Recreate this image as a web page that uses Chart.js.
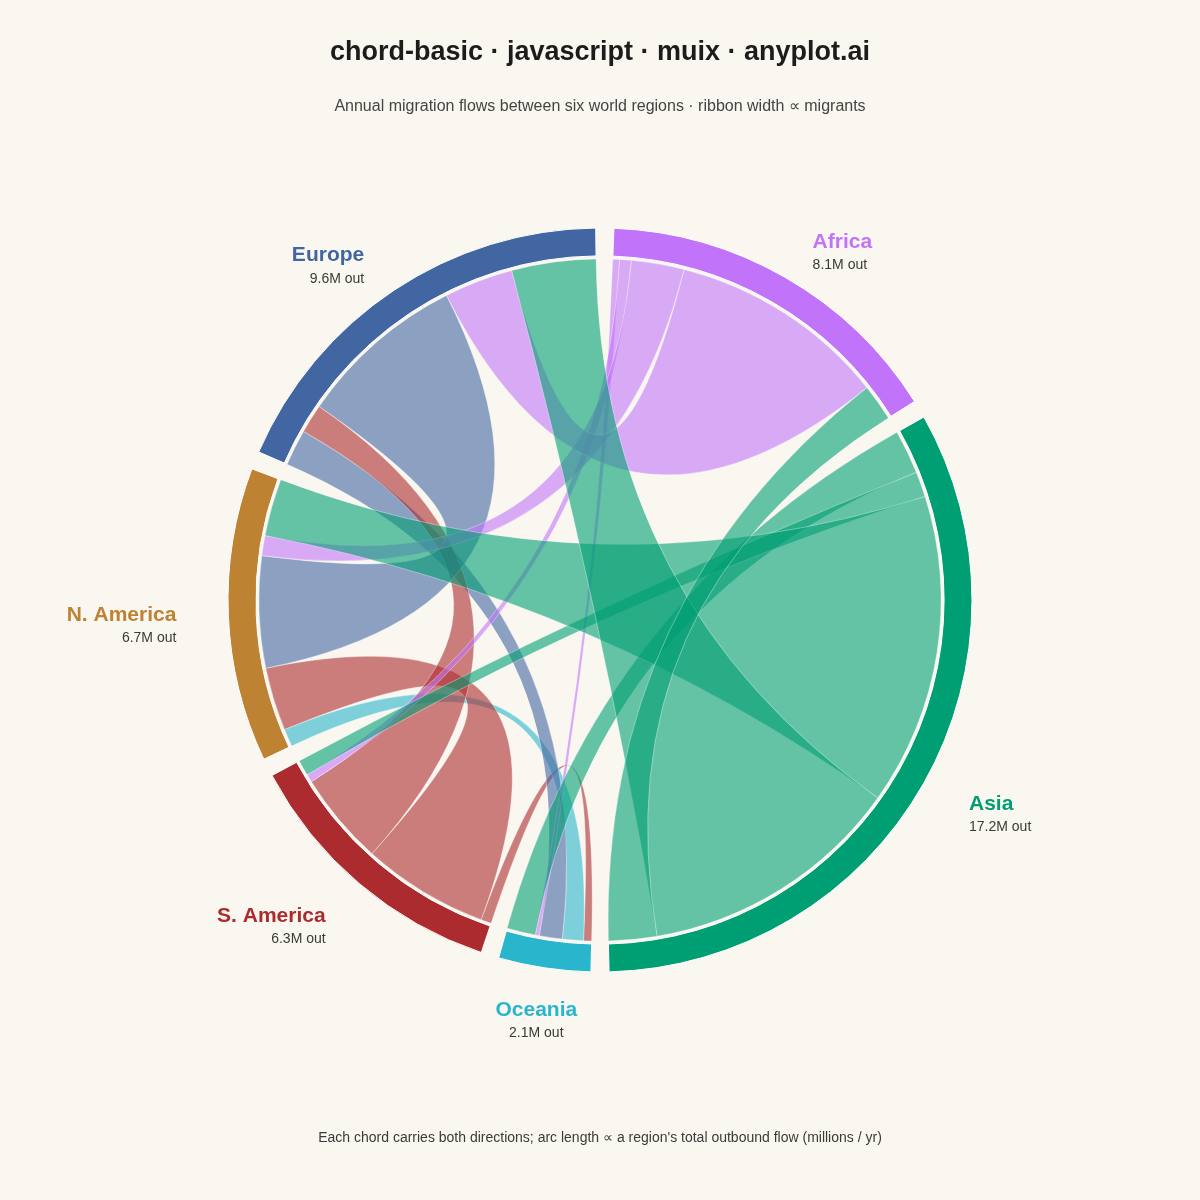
<!DOCTYPE html>
<html>
<head>
<meta charset="utf-8">
<title>chord-basic</title>
<script src="https://cdn.jsdelivr.net/npm/chart.js@4.4.1/dist/chart.umd.min.js"></script>
<style>
  html, body { margin: 0; padding: 0; background: #faf7f0; }
  #wrap { position: relative; width: 1200px; height: 1200px; font-family: "Liberation Sans", Arial, sans-serif; }
  #wrap canvas { position: absolute; left: 0; top: 0; }
  .txt { position: absolute; left: 0; width: 1200px; text-align: center; white-space: nowrap; }
  .title { top: 35px; line-height: 32px; font-size: 27px; font-weight: bold; color: #1c1c1c; }
  .subtitle { top: 96px; line-height: 20px; font-size: 16px; color: #444; }
  .footer { top: 1128px; line-height: 18px; font-size: 14px; color: #3a3a3a; }
</style>
</head>
<body>
<div id="wrap">
  <canvas id="chord" width="1200" height="1200"></canvas>
  <div class="txt title">chord-basic · javascript · muix · anyplot.ai</div>
  <div class="txt subtitle">Annual migration flows between six world regions · ribbon width ∝ migrants</div>
  <div class="txt footer">Each chord carries both directions; arc length ∝ a region's total outbound flow (millions / yr)</div>
</div>
<script>
// regions, clockwise round the circle
const regions = ["Oceania", "S. America", "N. America", "Europe", "Africa", "Asia"];

// outbound flows (millions / yr), columns in the same order as regions
const fromOceania  = [0,    0.20, 0.52, 0.57, 0.10, 0.71];
const fromSAmerica = [0.26, 0,    3.14, 2.31, 0.20, 0.39];
const fromNAmerica = [0.44, 1.57, 0,    2.77, 0.50, 1.42];
const fromEurope   = [0.90, 0.72, 4.18, 0,    1.71, 2.09];
const fromAfrica   = [0.17, 0.29, 1.31, 5.42, 0,    0.91];
const fromAsia     = [1.09, 0.63, 7.74, 6.54, 1.20, 0];

const regionColors = ["#29b6cc", "#ab2b2f", "#bd8232", "#4266a1", "#c174f9", "#009e73"];

const flows = [fromOceania, fromSAmerica, fromNAmerica, fromEurope, fromAfrica, fromAsia];
const outTotals = flows.map(row => row.reduce((a, b) => a + b, 0));
const grandTotal = outTotals.reduce((a, b) => a + b, 0);

// padding between groups, as a transparent slice
const PAD_DEG = 2.8;
const padValue = grandTotal * PAD_DEG / (360 - regions.length * PAD_DEG);

const ringData = [], ringColors = [], ringBorders = [], ringLabels = [];
outTotals.forEach((v, i) => {
  ringData.push(v, padValue);
  ringColors.push(regionColors[i], "rgba(0,0,0,0)");
  ringBorders.push(1, 0);
  ringLabels.push(regions[i], "");
});

function hexA(hex, a) {
  const n = parseInt(hex.slice(1), 16);
  return `rgba(${(n >> 16) & 255},${(n >> 8) & 255},${n & 255},${a})`;
}

function groupArcs(chart) {
  const arcs = chart.getDatasetMeta(0).data;
  return regions.map((_, i) => arcs[i * 2]);
}

const chordPlugin = {
  id: "chords",
  beforeDatasetsDraw(chart) {
    const groups = groupArcs(chart);
    // subgroup angles inside each group arc
    const sub = flows.map((row, i) => {
      const g = groups[i];
      const k = (g.endAngle - g.startAngle) / outTotals[i];
      let a = g.startAngle;
      return row.map(v => { const s = a; a += v * k; return [s, a]; });
    });
    const cx = groups[0].x, cy = groups[0].y;
    const r = groups[0].innerRadius - 3;
    const ctx = chart.ctx;
    ctx.save();
    for (let i = 0; i < regions.length; i++) {
      for (let j = i + 1; j < regions.length; j++) {
        const a = flows[i][j], b = flows[j][i];
        if (!a && !b) continue;
        const src = a >= b ? i : j;
        const tgt = src === i ? j : i;
        const [s0, s1] = sub[src][tgt];
        const [t0, t1] = sub[tgt][src];
        ctx.beginPath();
        ctx.moveTo(cx + r * Math.cos(s0), cy + r * Math.sin(s0));
        ctx.arc(cx, cy, r, s0, s1);
        ctx.quadraticCurveTo(cx, cy, cx + r * Math.cos(t0), cy + r * Math.sin(t0));
        ctx.arc(cx, cy, r, t0, t1);
        ctx.quadraticCurveTo(cx, cy, cx + r * Math.cos(s0), cy + r * Math.sin(s0));
        ctx.closePath();
        ctx.fillStyle = hexA(regionColors[src], 0.6);
        ctx.fill();
        ctx.strokeStyle = "rgba(255,255,255,0.5)";
        ctx.lineWidth = 0.7;
        ctx.stroke();
      }
    }
    ctx.restore();
  }
};

const labelPlugin = {
  id: "groupLabels",
  afterDatasetsDraw(chart) {
    const groups = groupArcs(chart);
    const ctx = chart.ctx;
    const cx = groups[0].x, cy = groups[0].y;
    const R = groups[0].outerRadius + 54;
    ctx.save();
    ctx.textBaseline = "middle";
    groups.forEach((g, i) => {
      const mid = (g.startAngle + g.endAngle) / 2;
      const c = Math.cos(mid), s = Math.sin(mid);
      const x = cx + (R - 2 * Math.abs(c) * (s > -0.3 ? 1 : 0)) * c;
      const yc = cy + (R - 15) * s + 10 + (s > 0 ? 6 * s : 0);
      ctx.textAlign = c > 0.2 ? "left" : (c < -0.2 ? "right" : "center");
      ctx.font = 'bold 21px "Liberation Sans", Arial, sans-serif';
      ctx.fillStyle = regionColors[i];
      ctx.fillText(regions[i], x, yc - 12);
      ctx.font = '14px "Liberation Sans", Arial, sans-serif';
      ctx.fillStyle = "#3a3a3a";
      ctx.fillText(outTotals[i].toFixed(1) + "M out", x, yc + 11);
    });
    ctx.restore();
  }
};

new Chart(document.getElementById("chord").getContext("2d"), {
  type: "doughnut",
  data: {
    labels: ringLabels,
    datasets: [{
      data: ringData,
      backgroundColor: ringColors,
      borderColor: "#ffffff",
      borderWidth: ringBorders
    }]
  },
  options: {
    responsive: false,
    animation: false,
    events: [],
    rotation: 181.4,
    cutout: "92.5%",
    radius: 372,
    layout: { padding: 228 },
    plugins: {
      legend: { display: false },
      tooltip: { enabled: false }
    }
  },
  plugins: [chordPlugin, labelPlugin]
});
</script>
</body>
</html>
